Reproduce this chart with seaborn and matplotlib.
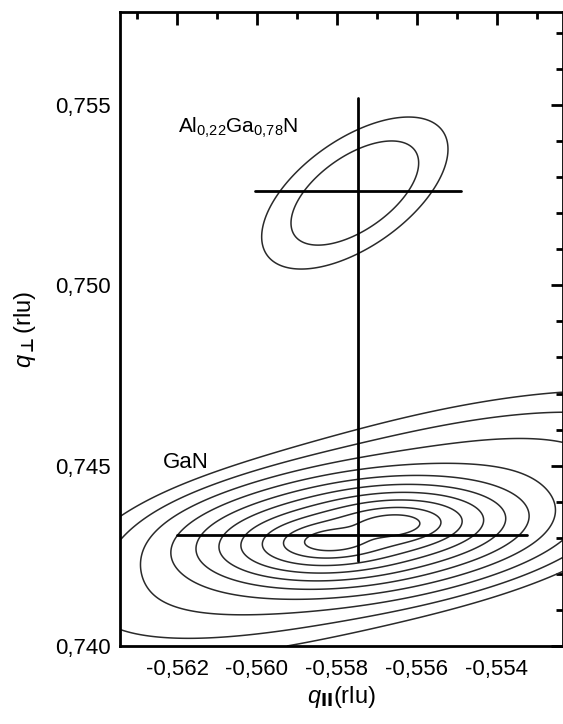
import numpy as np
import matplotlib
matplotlib.use("Agg")
import matplotlib.pyplot as plt
import seaborn as sns
import pandas as pd
from matplotlib.ticker import MultipleLocator, FixedLocator, FuncFormatter

# ---------------- data ----------------
q_par_range = [-0.56343, -0.55235]
q_perp_range = [0.74000, 0.75758]
x_ticks = [-0.562, -0.560, -0.558, -0.556, -0.554]
y_ticks = [0.740, 0.745, 0.750, 0.755]

# intensity components of the reciprocal space map
peak_names = ["GaN core a", "GaN core b", "GaN diffuse", "AlGaN"]
peak_qpar = [-0.55810, -0.55663, -0.55700, -0.55755]
peak_qperp = [0.74292, 0.74336, 0.74335, 0.75256]
peak_amp = [0.5, 0.5, 5.0e-4, 1.1e-4]
peak_wu = [0.525, 0.525, 3.4, 1.44]     # along major axis (1e-3 rlu)
peak_wv = [0.20, 0.20, 1.02, 0.74]      # along minor axis (1e-3 rlu)
peak_angle = [4, 4, 18, 40]             # degrees
peak_shape = ["exp", "exp", "gauss", "gauss"]

contour_levels_ln = [-11, -10, -9, -8, -7, -6, -5, -4, -3, -2]

# crosshair marks (peak positions)
cross_names = ["AlGaN", "GaN"]
cross_h_qpar = [[-0.56005, -0.55488], [-0.56200, -0.55323]]
cross_h_qperp = [0.75261, 0.74308]
cross_v_qpar = -0.55748
cross_v_qperp = [0.74236, 0.75519]

# ---------------- style ----------------
sns.set_theme(style="white")
plt.rcParams["font.family"] = ["Liberation Sans", "DejaVu Sans"]
plt.rcParams["mathtext.fontset"] = "custom"
plt.rcParams["mathtext.rm"] = "Liberation Sans"
plt.rcParams["mathtext.it"] = "Liberation Sans:italic"
plt.rcParams["mathtext.bf"] = "DejaVu Sans:bold"

FS = 16

fig = plt.figure(figsize=(5.63, 7.24), dpi=100)
ax = fig.add_axes([120 / 563, 1 - 646 / 724, 442.5 / 563, 634 / 724])

# ---------------- field ----------------
gx = np.linspace(q_par_range[0], q_par_range[1], 700)
gy = np.linspace(q_perp_range[0], q_perp_range[1], 900)
X, Y = np.meshgrid(gx, gy)
F = np.zeros_like(X)
for cx, cy, A, wu, wv, ang, shp in zip(peak_qpar, peak_qperp, peak_amp,
                                        peak_wu, peak_wv, peak_angle, peak_shape):
    dx = (X - cx) / 0.001
    dy = (Y - cy) / 0.001
    t = np.deg2rad(ang)
    u = dx * np.cos(t) + dy * np.sin(t)
    v = -dx * np.sin(t) + dy * np.cos(t)
    r = np.sqrt((u / wu) ** 2 + (v / wv) ** 2)
    if shp == "exp":
        F += A * np.exp(-r)
    else:
        F += A * np.exp(-0.5 * r ** 2)
L = np.log(F + 1e-30)
ax.contour(X, Y, L, levels=sorted(contour_levels_ln), colors="#2a2a2a",
           linewidths=1.1, linestyles="solid")

# ---------------- crosshairs ----------------
for hx, hy in zip(cross_h_qpar, cross_h_qperp):
    d = pd.DataFrame({"x": hx, "y": [hy, hy]})
    sns.lineplot(data=d, x="x", y="y", ax=ax, color="black", lw=2.0,
                 estimator=None, sort=False)
dv = pd.DataFrame({"x": [cross_v_qpar, cross_v_qpar], "y": cross_v_qperp})
sns.lineplot(data=dv, x="x", y="y", ax=ax, color="black", lw=2.0,
             estimator=None, sort=False)

# ---------------- labels ----------------
ax.text(-0.56198, 0.75422, r"Al$_{0{,}22}$Ga$_{0{,}78}$N", fontsize=15,
        va="baseline", ha="left", color="black")
ax.text(-0.56235, 0.74494, "GaN", fontsize=FS, va="baseline", ha="left",
        color="black")

ax.set_xlim(q_par_range)
ax.set_ylim(q_perp_range)
ax.xaxis.set_major_locator(FixedLocator(x_ticks))
ax.yaxis.set_major_locator(FixedLocator(y_ticks))
ax.xaxis.set_minor_locator(MultipleLocator(0.001))
ax.yaxis.set_minor_locator(MultipleLocator(0.001))
fmt = FuncFormatter(lambda v, p: f"{v:.3f}".replace(".", ","))
ax.xaxis.set_major_formatter(fmt)
ax.yaxis.set_major_formatter(fmt)
ax.tick_params(which="both", direction="in", top=True, right=True,
               width=2, colors="black", labelsize=FS)
ax.tick_params(which="major", length=9)
ax.tick_params(which="minor", length=5)
ax.tick_params(axis="x", which="major", pad=9)
ax.tick_params(axis="y", which="major", pad=7)
for s in ax.spines.values():
    s.set_linewidth(2)
    s.set_color("black")

ax.set_xlabel(r"$q_{\mathbf{II}}$(rlu)", fontsize=FS + 1, labelpad=3, color="black")
ax.set_ylabel(r"$q_{\mathbf{\bot}}$(rlu)", fontsize=FS + 1, labelpad=12, color="black")

fig.savefig("out.png", dpi=100)
